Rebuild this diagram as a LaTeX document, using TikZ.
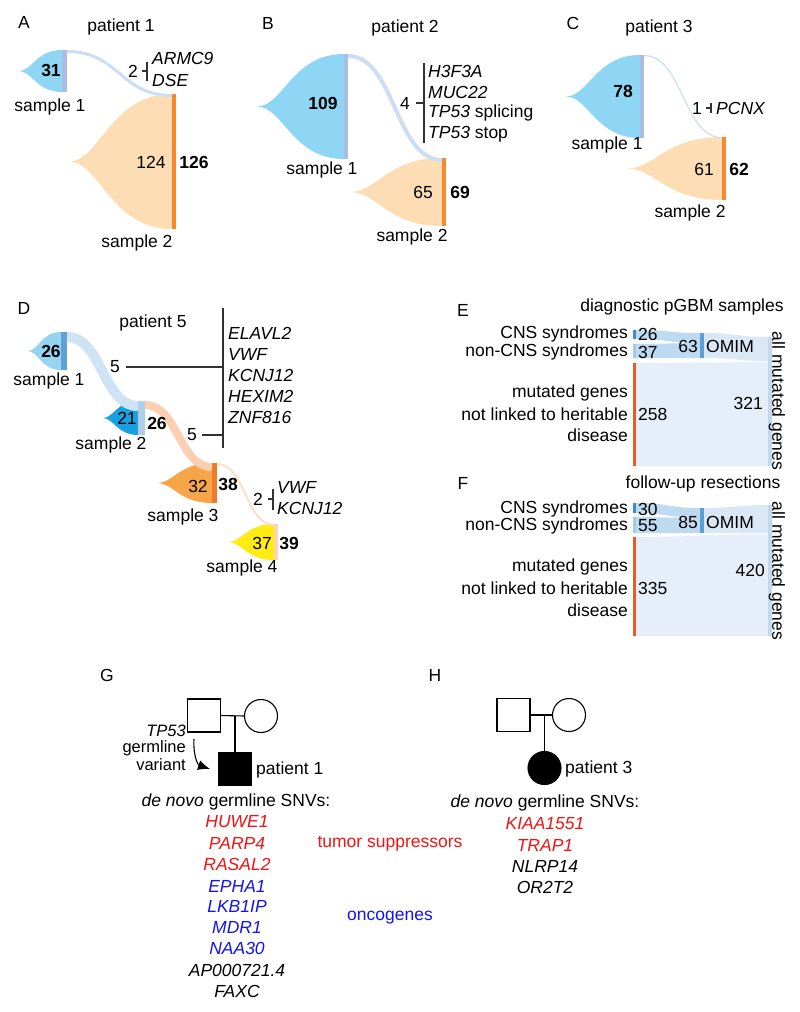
\documentclass[tikz,border=0pt]{standalone}
\usepackage{fontspec}
\setmainfont{Liberation Sans}
\usetikzlibrary{arrows.meta}
\definecolor{sBlue}{RGB}{143,213,244}
\definecolor{barLav}{RGB}{170,188,226}
\definecolor{sOrange}{RGB}{253,221,180}
\definecolor{barOr}{RGB}{246,136,46}
\definecolor{ribBlue}{RGB}{204,222,242}
\definecolor{dOneFill}{RGB}{150,212,242}
\definecolor{dOneBar}{RGB}{96,160,212}
\definecolor{dTwoFill}{RGB}{24,160,224}
\definecolor{dTwoBar}{RGB}{172,206,232}
\definecolor{dThreeFill}{RGB}{246,166,72}
\definecolor{dThreeBar}{RGB}{240,122,42}
\definecolor{dFourFill}{RGB}{255,236,20}
\definecolor{dFourBar}{RGB}{252,212,182}
\definecolor{ribDa}{RGB}{206,228,244}
\definecolor{ribDb}{RGB}{252,206,178}
\definecolor{ribDc}{RGB}{253,224,204}
\definecolor{cnsBar}{RGB}{58,141,208}
\definecolor{ncnsBar}{RGB}{160,204,236}
\definecolor{omimBar}{RGB}{90,159,213}
\definecolor{allBar}{RGB}{196,216,238}
\definecolor{redBar}{RGB}{236,90,36}
\definecolor{ribOm}{RGB}{189,218,240}
\definecolor{ribAll}{RGB}{218,232,246}
\definecolor{ribBig}{RGB}{229,238,249}
\definecolor{tsRed}{RGB}{240,20,20}
\definecolor{ocBlue}{RGB}{20,20,235}
\definecolor{brkGray}{RGB}{50,50,50}

% fish shape: tip x, bar x, top y, bottom y, colour
\newcommand{\fishshape}[5]{%
  \fill[#5] (#1,{(#3+#4)/2}) .. controls ({#1+0.3*(#2-#1)},{(#3+#4)/2}) and ({#1+0.4*(#2-#1)},#3) .. (#2,#3)
    -- (#2,#4) .. controls ({#1+0.4*(#2-#1)},#4) and ({#1+0.3*(#2-#1)},{(#3+#4)/2}) .. cycle;}
% band: x1, top1, bot1, x2, top2, bot2, colour
\newcommand{\bandshape}[7]{%
  \fill[#7] (#1,#2) .. controls ({(#1+#4)/2},#2) and ({(#1+#4)/2},#5) .. (#4,#5)
    -- (#4,#6) .. controls ({(#1+#4)/2},#6) and ({(#1+#4)/2},#3) .. (#1,#3) -- cycle;}

\tikzset{
  lbl/.style={font=\fontsize{17.5}{20}\selectfont, inner sep=0pt, text=black},
  small/.style={font=\fontsize{16.5}{17}\selectfont},
  barnode/.style={draw=none, inner sep=0pt, outer sep=0pt},
  brk/.style={draw=brkGray, line width=1.1pt},
  ped/.style={draw=black, line width=1.1pt},
  sq/.style={ped, rectangle, minimum size=33pt, inner sep=0pt, outer sep=0pt},
  circ/.style={ped, circle, minimum size=33pt, inner sep=0pt, outer sep=0pt},
}

\begin{document}
\begin{tikzpicture}[x=1pt,y=-1pt]
\useasboundingbox (0,0) rectangle (800,1012);
\fill[white] (0,0) rectangle (800,1012);

%% ---------------- Panel A
\fishshape{19}{62}{50}{92}{sBlue}
\fishshape{69}{172}{94}{229}{sOrange}
\node[barnode, fill=barLav, minimum width=5pt, minimum height=42pt] (a1bar) at (64.5,71) {};
\node[barnode, fill=barOr, minimum width=4pt, minimum height=135pt] (a2bar) at (174,161.5) {};
\draw[ribBlue, line width=3pt] ([yshift=-1.5pt]a1bar.north east) .. controls +(52,0) and +(-52,0) .. ([yshift=-1.5pt]a2bar.north west);
\node[lbl] (labA) at (24,22) {A};
\node[lbl] (patA) at (121,27) {patient 1};
\node[lbl] (a31) at (51,70) {\bfseries 31};
\node[lbl] (as1) at (50,107) {sample 1};
\node[lbl] (a124) at (151,162) {124};
\node[lbl] (a126) at (194,162) {\bfseries 126};
\node[lbl] (as2) at (137,243) {sample 2};
\node[lbl] (a2) at (133,71) {2};
\node[lbl, anchor=west] (aARM) at (152,58) {\itshape ARMC9};
\node[lbl, anchor=west] (aDSE) at (152,80) {\itshape DSE};
\coordinate (abrk) at (147,71);
\draw[brk] (147,62) -- (147,81);
\draw[brk] ([xshift=4pt]a2.east) -- (abrk);

%% ---------------- Panel B
\fishshape{257}{344}{54}{159}{sBlue}
\fishshape{350}{442}{158}{226}{sOrange}
\node[barnode, fill=barLav, minimum width=4pt, minimum height=105pt] (b1bar) at (346,106.5) {};
\node[barnode, fill=barOr, minimum width=4pt, minimum height=68pt] (b2bar) at (444,192) {};
\draw[ribBlue, line width=4pt] ([yshift=-2pt]b1bar.north east) .. controls +(47,0) and +(-47,0) .. ([yshift=-2pt]b2bar.north west);
\node[lbl] (labB) at (268,23) {B};
\node[lbl] (patB) at (405,28) {patient 2};
\node[lbl] (b109) at (323,103) {\bfseries 109};
\node[lbl] (bs1) at (322,170) {sample 1};
\node[lbl] (b65) at (423,192) {65};
\node[lbl] (b69) at (460,192) {\bfseries 69};
\node[lbl] (bs2) at (412,237) {sample 2};
\node[lbl] (b4) at (405,103) {4};
\coordinate (bbrk) at (424,103);
\draw[brk] (424,63) -- (424,143);
\draw[brk] ([xshift=6pt]b4.east) -- (bbrk);
\node[lbl, anchor=west] (bg1) at (428,71) {\itshape H3F3A};
\node[lbl, anchor=west] (bg2) at (428,92) {\itshape MUC22};
\node[lbl, anchor=west] (bg3) at (428,113) {\itshape TP53\upshape{} splicing};
\node[lbl, anchor=west] (bg4) at (428,134) {\itshape TP53\upshape{} stop};

%% ---------------- Panel C
\fishshape{566}{640}{55}{138}{sBlue}
\fishshape{627}{722}{137}{200}{sOrange}
\node[barnode, fill=barLav, minimum width=4pt, minimum height=83pt] (c1bar) at (642,96.5) {};
\node[barnode, fill=barOr, minimum width=3.5pt, minimum height=63pt] (c2bar) at (723.75,168.5) {};
\draw[ribBlue, line width=1.2pt] ([yshift=-0.6pt]c1bar.north east) .. controls +(39,0) and +(-39,0) .. ([yshift=-0.6pt]c2bar.north west);
\node[lbl] (labC) at (573,23) {C};
\node[lbl] (patC) at (659,28) {patient 3};
\node[lbl] (c78) at (623,91) {\bfseries 78};
\node[lbl] (cs1) at (607,145) {sample 1};
\node[lbl] (c61) at (704,169) {61};
\node[lbl] (c62) at (739,169) {\bfseries 62};
\node[lbl] (cs2) at (690,213) {sample 2};
\node[lbl] (c1) at (697,108) {1};
\coordinate (cbrk) at (711,108);
\draw[brk] (711,103) -- (711,113);
\draw[brk] ([xshift=4pt]c1.east) -- (cbrk);
\node[lbl, anchor=west] (cPC) at (716,108) {\itshape PCNX};

%% ---------------- Panel D
\fishshape{28}{61}{332}{370}{dOneFill}
\fishshape{103}{138}{401}{435}{dTwoFill}
\fishshape{157}{212}{463}{503}{dThreeFill}
\fishshape{228}{274}{524}{560}{dFourFill}
\node[barnode, fill=dOneBar, minimum width=6pt, minimum height=38pt] (d1bar) at (64,351) {};
\node[barnode, fill=dTwoBar, minimum width=7pt, minimum height=34pt] (d2bar) at (141.5,418) {};
\node[barnode, fill=dThreeBar, minimum width=5pt, minimum height=40pt] (d3bar) at (214.5,483) {};
\node[barnode, fill=dFourBar, minimum width=4pt, minimum height=36pt] (d4bar) at (276,542) {};
\draw[ribDa, line width=10pt] ([yshift=-5pt]d1bar.north east) .. controls +(35,0) and +(-35,0) .. ([yshift=-5pt]d2bar.north west);
\draw[ribDb, line width=8pt] ([yshift=-4pt]d2bar.north east) .. controls +(33,0) and +(-33,0) .. ([yshift=-4pt]d3bar.north west);
\draw[ribDc, line width=2pt] ([yshift=-1pt]d3bar.north east) .. controls +(28,0) and +(-28,0) .. ([yshift=-1pt]d4bar.north west);
\node[lbl] (labD) at (24,308) {D};
\node[lbl] (patD) at (153,323) {patient 5};
\node[lbl] (d26a) at (51,351) {\bfseries 26};
\node[lbl] (ds1) at (49,381) {sample 1};
\node[lbl] (d21) at (127,418) {21};
\node[lbl] (d26b) at (157,423) {\bfseries 26};
\node[lbl] (ds2) at (111,445) {sample 2};
\node[lbl] (d32) at (198,486) {32};
\node[lbl] (d38) at (228,484) {\bfseries 38};
\node[lbl] (ds3) at (183,517) {sample 3};
\node[lbl] (d37) at (262,543) {37};
\node[lbl] (d39) at (289,543) {\bfseries 39};
\node[lbl] (ds4) at (242,568) {sample 4};
\node[lbl] (d5a) at (115,367) {5};
\node[lbl] (d5b) at (192,435) {5};
\coordinate (dbrka) at (223,367);
\coordinate (dbrkb) at (223,435);
\draw[brk] (223,308) -- (223,448);
\draw[brk] ([xshift=6pt]d5a.east) -- (dbrka);
\draw[brk] ([xshift=5pt]d5b.east) -- (dbrkb);
\node[lbl, anchor=west] (dg1) at (228,333) {\itshape ELAVL2};
\node[lbl, anchor=west] (dg2) at (228,354) {\itshape VWF};
\node[lbl, anchor=west] (dg3) at (228,375) {\itshape KCNJ12};
\node[lbl, anchor=west] (dg4) at (228,396) {\itshape HEXIM2};
\node[lbl, anchor=west] (dg5) at (228,417) {\itshape ZNF816};
\node[lbl] (d2) at (258,499) {2};
\coordinate (dbrkc) at (273,499);
\draw[brk] (273,489) -- (273,510);
\draw[brk] ([xshift=5pt]d2.east) -- (dbrkc);
\node[lbl, anchor=west] (dg6) at (277,487) {\itshape VWF};
\node[lbl, anchor=west] (dg7) at (277,508) {\itshape KCNJ12};

%% ---------------- Panel E
\bandshape{636}{330}{339}{700}{333}{343}{ribOm}
\bandshape{636}{344}{358}{700}{343}{358}{ribOm}
\bandshape{704}{333}{358}{768}{337}{361}{ribAll}
\bandshape{636}{363}{466}{768}{362}{466}{ribBig}
\fill[cnsBar] (633,330) rectangle (636,339);
\fill[ncnsBar] (633,344) rectangle (636,358);
\fill[omimBar] (700,333) rectangle (704,358);
\fill[redBar] (633,363) rectangle (636,466);
\fill[allBar] (768,337) rectangle (772,466);
\node[lbl] (labE) at (463,310) {E};
\node[lbl] (titE) at (682,307) {diagnostic pGBM samples};
\node[lbl, anchor=east] (eCNS) at (628,334) {CNS syndromes};
\node[lbl, anchor=east] (eNCNS) at (628,352) {non-CNS syndromes};
\node[lbl, anchor=west] (e26) at (638,334) {26};
\node[lbl, anchor=west] (e37) at (638,352) {37};
\node[lbl, anchor=east] (e63) at (698,346) {63};
\node[lbl] (eOM) at (730,346) {OMIM};
\node[lbl, anchor=east] (eMut) at (628,393) {mutated genes};
\node[lbl, anchor=east] (eNot) at (628,414) {not linked to heritable};
\node[lbl, anchor=east] (eDis) at (628,435) {disease};
\node[lbl, anchor=west] (e258) at (638,414) {258};
\node[lbl, anchor=east] (e321) at (763,403) {321};
\node[lbl, rotate=-90] (eAll) at (777,401) {all mutated genes};

%% ---------------- Panel F
\bandshape{636}{503}{513}{700}{508}{518}{ribOm}
\bandshape{636}{517}{533}{700}{518}{533}{ribOm}
\bandshape{704}{508}{533}{768}{505}{533}{ribAll}
\bandshape{636}{537}{636}{768}{534}{636}{ribBig}
\fill[cnsBar] (633,503) rectangle (636,513);
\fill[ncnsBar] (633,517) rectangle (636,533);
\fill[omimBar] (700,508) rectangle (704,533);
\fill[redBar] (633,537) rectangle (636,636);
\fill[allBar] (768,505) rectangle (772,636);
\node[lbl] (labF) at (463,483) {F};
\node[lbl] (titF) at (703,484) {follow-up resections};
\node[lbl, anchor=east] (fCNS) at (628,509) {CNS syndromes};
\node[lbl, anchor=east] (fNCNS) at (628,526) {non-CNS syndromes};
\node[lbl, anchor=west] (f30) at (638,509) {30};
\node[lbl, anchor=west] (f55) at (638,526) {55};
\node[lbl, anchor=east] (f85) at (698,522) {85};
\node[lbl] (fOM) at (730,522) {OMIM};
\node[lbl, anchor=east] (fMut) at (628,567) {mutated genes};
\node[lbl, anchor=east] (fNot) at (628,588) {not linked to heritable};
\node[lbl, anchor=east] (fDis) at (628,610) {disease};
\node[lbl, anchor=west] (f335) at (638,588) {335};
\node[lbl, anchor=east] (f420) at (765,570) {420};
\node[lbl, rotate=-90] (fAll) at (777,571) {all mutated genes};

%% ---------------- Panel G
\node[lbl] (labG) at (107,675) {G};
\node[sq] (gfa) at (204,715.5) {};
\node[circ] (gmo) at (261,716) {};
\node[sq, fill=black] (gch) at (235,769) {};
\coordinate (gmid) at (235,716);
\draw[ped] (gfa.east) -- (gmo.west);
\draw[ped] (gmid) -- (gch.north);
\node[lbl, small, anchor=east] (gTP) at (186,731) {\itshape TP53};
\node[lbl, small, anchor=east] (gGer) at (186,748) {germline};
\node[lbl, small, anchor=east] (gVar) at (186,765) {variant};
\coordinate (garS) at (194,739);
\coordinate (garE) at (210,769);
\draw[ped, -{Latex[length=12pt,width=10pt]}] (garS) .. controls (193,756) and (198,765) .. (garE);
\node[lbl, anchor=west] (gPat) at (256,770) {patient 1};
\node[lbl] (gDN) at (236,802) {\itshape de novo\upshape{} germline SNVs:};
\node[lbl, text=tsRed] (gg1) at (237,822) {\itshape HUWE1};
\node[lbl, text=tsRed] (gg2) at (237,843) {\itshape PARP4};
\node[lbl, text=tsRed] (gg3) at (237,864) {\itshape RASAL2};
\node[lbl, text=ocBlue] (gg4) at (237,886) {\itshape EPHA1};
\node[lbl, text=ocBlue] (gg5) at (237,906) {\itshape LKB1IP};
\node[lbl, text=ocBlue] (gg6) at (237,927) {\itshape MDR1};
\node[lbl, text=ocBlue] (gg7) at (237,948) {\itshape NAA30};
\node[lbl] (gg8) at (237,970) {\itshape AP000721.4};
\node[lbl] (gg9) at (237,991) {\itshape FAXC};
\node[lbl, text=tsRed] (gTS) at (390,844) {tumor suppressors};
\node[lbl, text=ocBlue] (gOC) at (390,918) {oncogenes};

%% ---------------- Panel H
\node[lbl] (labH) at (435,675) {H};
\node[sq] (hfa) at (513.5,715) {};
\node[circ] (hmo) at (569,715) {};
\node[circ, fill=black] (hch) at (544.5,768) {};
\coordinate (hmid) at (544.5,715);
\draw[ped] (hfa.east) -- (hmo.west);
\draw[ped] (hmid) -- (hch.north);
\node[lbl, anchor=west] (hPat) at (565,769) {patient 3};
\node[lbl] (hDN) at (545,803) {\itshape de novo\upshape{} germline SNVs:};
\node[lbl, text=tsRed] (hg1) at (545,824) {\itshape KIAA1551};
\node[lbl, text=tsRed] (hg2) at (545,845) {\itshape TRAP1};
\node[lbl] (hg3) at (545,866) {\itshape NLRP14};
\node[lbl] (hg4) at (545,887) {\itshape OR2T2};
\end{tikzpicture}
\end{document}
